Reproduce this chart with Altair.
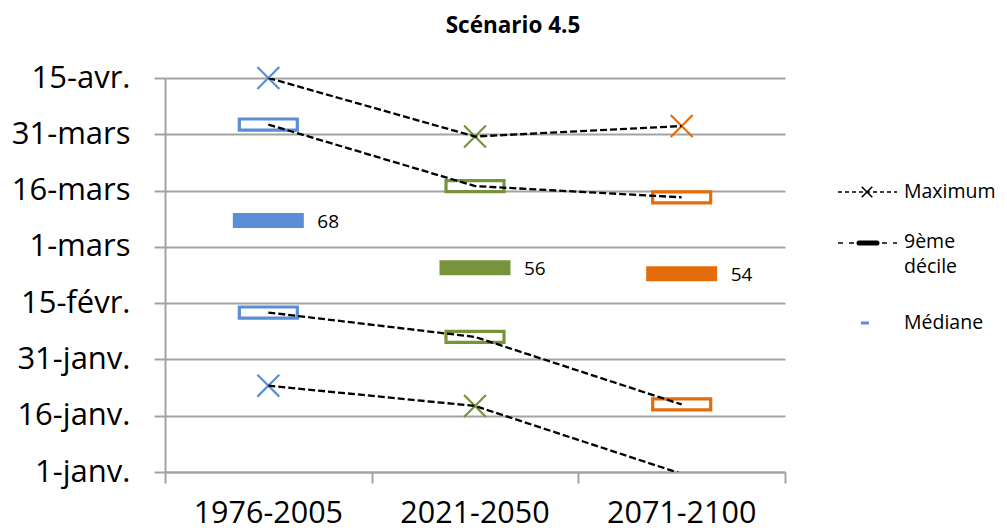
import altair as alt
import pandas as pd

# ---- data ----
periods = ["1976-2005", "2021-2050", "2071-2100"]
period_colors = ["#5A8FD7", "#77933C", "#E46C0A"]
maximum = [106.0, 90.4, 93.2]
decile9 = [93.6, 77.2, 74.2]
mediane = [68.0, 55.4, 53.8]
mediane_labels = ["68", "56", "54"]
decile1 = [43.5, 37.0, 19.0]
minimum = [24.0, 18.6, 0.5]
tick_values = [1, 16, 31, 46, 61, 76, 91, 106]
tick_labels = ["1-janv.", "16-janv.", "31-janv.", "15-févr.", "1-mars",
               "16-mars", "31-mars", "15-avr."]
title_text = "Scénario 4.5"
legend_texts = ["Maximum", "9ème", "décile", "Médiane"]

W, H = 620, 394
FONT = "Open Sans"
GRID = "#A3A3A3"

pos = [i + 0.5 for i in range(len(periods))]
base = pd.DataFrame({"period": periods, "pos": pos, "max": maximum, "d9": decile9,
                     "med": mediane, "medlab": mediane_labels, "d1": decile1,
                     "min": minimum})
long = base.melt(id_vars=["period", "pos"], value_vars=["max", "d9", "d1", "min"],
                 var_name="serie", value_name="value")
one = pd.DataFrame({"k": [0]})

label_expr = "".join(f"datum.value == {v} ? '{l}' : " for v, l in zip(tick_values, tick_labels)) + "''"

x_enc = alt.X("pos:Q", scale=alt.Scale(domain=[0, 3], nice=False, zero=False),
              axis=alt.Axis(values=[0, 1, 2, 3], labels=False, title=None, grid=False,
                            tickSize=11, tickColor=GRID, domainColor=GRID,
                            tickWidth=2, domainWidth=2))


def y_enc(field):
    return alt.Y(f"{field}:Q", scale=alt.Scale(domain=[1, 106], nice=False, zero=False),
                 axis=alt.Axis(values=tick_values, labelExpr=label_expr, title=None,
                               grid=True, gridColor=GRID, gridWidth=2, tickSize=11,
                               tickColor=GRID, domainColor=GRID, tickWidth=2,
                               domainWidth=2, labelFont=FONT, labelFontSize=31,
                               labelColor="black", labelPadding=24))


color_enc = alt.Color("period:N", scale=alt.Scale(domain=periods, range=period_colors),
                      legend=None)

xpath = "M-1,-1L1,1M-1,1L1,-1"
boxpath = "M-1,-0.19L1,-0.19L1,0.19L-1,0.19Z"

boxes = alt.Chart(long).transform_filter(
    "datum.serie == 'd9' || datum.serie == 'd1'"
).mark_point(shape=boxpath, size=3364, filled=False, fill="white", fillOpacity=1,
             strokeWidth=3.2, opacity=1).encode(x=x_enc, y=y_enc("value"), stroke=color_enc)

crosses = alt.Chart(long).transform_filter(
    "(datum.serie == 'max' || datum.serie == 'min') && datum.value >= 1"
).mark_point(shape=xpath, size=480, filled=False, strokeWidth=2.2, opacity=1).encode(
    x=x_enc, y=y_enc("value"), stroke=color_enc)

med_bars = alt.Chart(base).mark_tick(orient="horizontal", size=71, thickness=15,
                                     opacity=1).encode(
    x=x_enc, y=y_enc("med"), color=color_enc)

med_text = alt.Chart(base).mark_text(align="left", baseline="middle", dx=49, dy=1,
                                     font=FONT, fontSize=19, color="black").encode(
    x=x_enc, y=y_enc("med"), text="medlab:N")

lines = alt.Chart(long).mark_line(color="black", strokeDash=[7, 3], strokeWidth=2.3,
                                  clip=True).encode(
    x=x_enc, y=y_enc("value"), detail="serie:N")

cat_labels = alt.Chart(base).mark_text(baseline="middle", font=FONT, fontSize=30.5,
                                       color="black").encode(
    x=x_enc, y=alt.value(H + 42), text="period:N")

title = alt.Chart(one).mark_text(baseline="middle", font=FONT, fontSize=22.5,
                                 fontWeight="bold", color="black").encode(
    x=alt.value(348), y=alt.value(-52), text=alt.value(title_text))

# ---- hand-drawn legend ----
def lg_text(txt, y):
    return alt.Chart(one).mark_text(align="left", baseline="middle", font=FONT,
                                    fontSize=19.5, color="black").encode(
        x=alt.value(739), y=alt.value(y), text=alt.value(txt))


lg_max_line = alt.Chart(one).mark_rule(color="black", strokeDash=[4, 3], strokeWidth=1.5).encode(
    x=alt.value(673), x2=alt.value(732), y=alt.value(114))
lg_max_x = alt.Chart(one).mark_point(shape=xpath, size=110, filled=False, color="black",
                                     strokeWidth=1.6, opacity=1).encode(
    x=alt.value(702), y=alt.value(114))

lg_d9_line = alt.Chart(one).mark_rule(color="black", strokeDash=[5, 6], strokeWidth=1.5).encode(
    x=alt.value(673), x2=alt.value(732), y=alt.value(165))
lg_d9_bar = alt.Chart(one).mark_rule(color="black", strokeWidth=5, strokeCap="round").encode(
    x=alt.value(694), x2=alt.value(712), y=alt.value(165))

lg_med_bar = alt.Chart(one).mark_rule(color=period_colors[0], strokeWidth=3).encode(
    x=alt.value(696), x2=alt.value(704), y=alt.value(245))

chart = alt.layer(
    boxes, med_bars, med_text, crosses, lines, cat_labels, title,
    lg_max_line, lg_max_x, lg_text(legend_texts[0], 114),
    lg_d9_line, lg_d9_bar, lg_text(legend_texts[1], 164), lg_text(legend_texts[2], 189),
    lg_med_bar, lg_text(legend_texts[3], 245)
).properties(
    width=W, height=H,
    autosize=alt.AutoSizeParams(type="none"),
    padding={"left": 165, "top": 78, "right": 222, "bottom": 59},
).configure_view(stroke=None)

chart.save("out.html", embed_options={"renderer": "svg", "actions": False})
